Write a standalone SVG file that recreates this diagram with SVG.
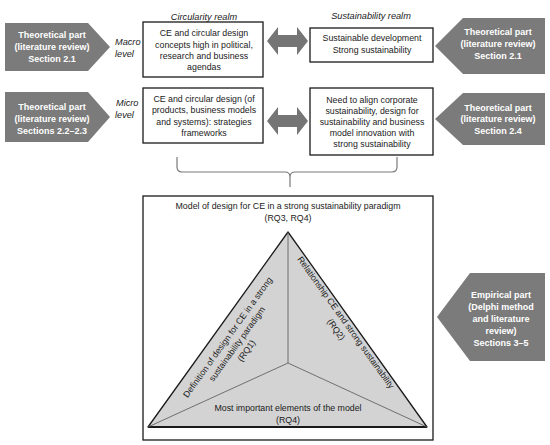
<svg xmlns="http://www.w3.org/2000/svg" width="550" height="445" viewBox="0 0 550 445">
<style>
.pent{fill:#7b7b7b;}
.pt{font-family:"Liberation Sans",Arial,sans-serif;font-size:9px;font-weight:bold;fill:#ffffff;text-anchor:middle;}
.box{fill:#ffffff;stroke:#1a1a1a;stroke-width:1.3;}
.bt{font-family:"Liberation Sans",Arial,sans-serif;font-size:8.8px;fill:#1a1a1a;text-anchor:middle;}
.it{font-family:"Liberation Sans",Arial,sans-serif;font-size:9.2px;font-style:italic;fill:#1a1a1a;}
.dbl{fill:#757575;}
.brace{fill:none;stroke:#7a7a7a;stroke-width:1.2;}
</style>
<rect width="550" height="445" fill="#ffffff"/>
<text class="it" x="204" y="20" text-anchor="middle">Circularity realm</text>
<text class="it" x="371" y="19" text-anchor="middle">Sustainability realm</text>
<g id="left-theory-1">
<polygon class="pent" points="5,23 88,23 110,47 88,71 5,71"/>
<text class="pt" x="52" y="38">Theoretical part</text>
<text class="pt" x="52" y="50">(literature review)</text>
<text class="pt" x="52" y="62">Section 2.1</text>
</g>
<g id="left-theory-2">
<polygon class="pent" points="5,92 88,92 110,117 88,142 5,142"/>
<text class="pt" x="52" y="110">Theoretical part</text>
<text class="pt" x="52" y="122">(literature review)</text>
<text class="pt" x="52" y="134">Sections 2.2–2.3</text>
</g>
<g id="macro-label">
<text class="it" x="115" y="45">Macro</text>
<text class="it" x="115" y="57">level</text>
</g>
<g id="micro-label">
<text class="it" x="116" y="106">Micro</text>
<text class="it" x="115" y="118">level</text>
</g>
<g id="box-ce-macro">
<rect class="box" x="143" y="22" width="120" height="55"/>
<text class="bt" x="204" y="36">CE and circular design</text>
<text class="bt" x="204" y="48">concepts high in political,</text>
<text class="bt" x="204" y="59">research  and business</text>
<text class="bt" x="204" y="70">agendas</text>
</g>
<g id="box-sd-macro">
<rect class="box" x="310" y="28" width="123" height="34"/>
<text class="bt" x="372" y="41">Sustainable development</text>
<text class="bt" x="372" y="53">Strong sustainability</text>
</g>
<g id="box-ce-micro">
<rect class="box" x="143" y="88" width="120" height="55"/>
<text class="bt" x="204" y="102">CE and circular design (of</text>
<text class="bt" x="204" y="113">products, business models</text>
<text class="bt" x="204" y="125">and systems): strategies</text>
<text class="bt" x="204" y="136">frameworks</text>
</g>
<g id="box-sd-micro">
<rect class="box" x="310" y="88" width="123" height="67"/>
<text class="bt" x="372" y="103">Need to align corporate</text>
<text class="bt" x="372" y="114">sustainability, design for</text>
<text class="bt" x="372" y="125">sustainability and business</text>
<text class="bt" x="372" y="136">model innovation with</text>
<text class="bt" x="372" y="147">strong sustainability</text>
</g>
<g id="right-theory-1">
<polygon class="pent" points="463,18 545,18 545,74 463,74 435,46"/>
<text class="pt" x="498" y="35">Theoretical part</text>
<text class="pt" x="498" y="47">(literature review)</text>
<text class="pt" x="498" y="59">Section 2.1</text>
</g>
<g id="right-theory-2">
<polygon class="pent" points="463,93 545,93 545,145 463,145 435,119"/>
<text class="pt" x="498" y="111">Theoretical part</text>
<text class="pt" x="498" y="122">(literature review)</text>
<text class="pt" x="498" y="134">Section 2.4</text>
</g>
<g id="connectors">
<polygon class="dbl" points="267,41 278,27 278,35 297,35 297,27 308,41 297,55 297,47 278,47 278,55"/>
<polygon class="dbl" points="267,121 278,107 278,115 297,115 297,107 308,121 297,135 297,127 278,127 278,135"/>
<path class="brace" d="M177,157 L177,167 Q177,172 182,172 L285,172 Q290,172 290,177 Q290,172 295,172 L392,172 Q397,172 397,167 L397,157 M290,177 L290,187"/>
</g>
<g id="model">
<rect class="box" x="143" y="196" width="290" height="244"/>
<text class="bt" x="288" y="209">Model of design for CE in a strong sustainability paradigm</text>
<text class="bt" x="288" y="221">(RQ3, RQ4)</text>
<polygon points="288,232 148,427 427,427" fill="#d3d3d3" stroke="#1a1a1a" stroke-width="1.3" stroke-linejoin="round"/>
<line x1="148" y1="427" x2="427" y2="427" stroke="#1a1a1a" stroke-width="2"/>
<line x1="288" y1="232" x2="288" y2="363" stroke="#555555" stroke-width="0.8"/>
<line x1="148" y1="427" x2="288" y2="363" stroke="#555555" stroke-width="0.8"/>
<line x1="427" y1="427" x2="288" y2="363" stroke="#555555" stroke-width="0.8"/>
<g transform="translate(237,344) rotate(-54.3)">
<text class="bt" x="0" y="-8.5">Definition of design for CE in a strong</text>
<text class="bt" x="0" y="3">sustainability paradigm</text>
<text class="bt" x="0" y="14.5">(RQ1)</text>
</g>
<g transform="translate(341,326) rotate(54.5)">
<text class="bt" x="0" y="-3">Relationship CE and strong sustainability</text>
<text class="bt" x="0" y="9">(RQ2)</text>
</g>
<text class="bt" x="288" y="411">Most important elements of the model</text>
<text class="bt" x="288" y="423">(RQ4)</text>
</g>
<g id="empirical">
<polygon class="pent" points="470,273 545,273 545,361 470,361 437,317"/>
<text class="pt" x="501" y="298">Empirical part</text>
<text class="pt" x="501" y="310">(Delphi method</text>
<text class="pt" x="501" y="322">and literature</text>
<text class="pt" x="501" y="334">review)</text>
<text class="pt" x="501" y="346">Sections 3–5</text>
</g>
</svg>
